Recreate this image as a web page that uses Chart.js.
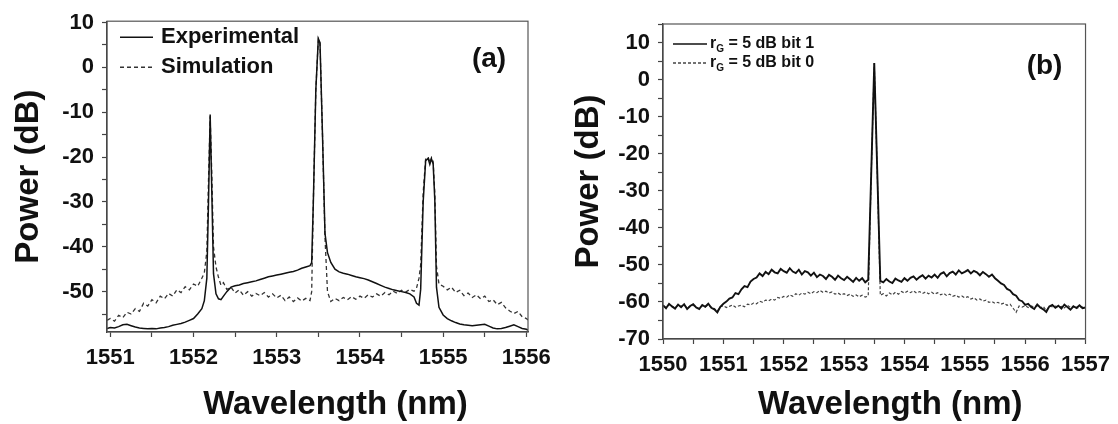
<!DOCTYPE html>
<html>
<head>
<meta charset="utf-8">
<script src="https://cdn.jsdelivr.net/npm/chart.js@4"></script>
<style>
  html, body { margin: 0; padding: 0; background: #fff; }
  #wrap { position: relative; width: 1118px; height: 424px; }
  canvas { position: absolute; top: 0; }
  #ca { left: 0; }
  #cb { left: 559px; }
</style>
</head>
<body>
<div id="wrap">
  <canvas id="ca" width="559" height="424"></canvas>
  <canvas id="cb" width="559" height="424"></canvas>
</div>
<script>
// panneau (a) : longueurs d'onde (nm) et puissances (dB)
const aWave = [
  1550.96, 1551.00, 1551.05, 1551.10, 1551.15, 1551.20, 1551.25, 1551.30, 1551.35, 1551.40,
  1551.45, 1551.50, 1551.55, 1551.60, 1551.65, 1551.70, 1551.75, 1551.80, 1551.85, 1551.90,
  1551.95, 1552.00, 1552.05, 1552.10, 1552.13, 1552.16, 1552.18, 1552.20, 1552.22, 1552.24,
  1552.27, 1552.30, 1552.33, 1552.36, 1552.40, 1552.45, 1552.50, 1552.55, 1552.60, 1552.65,
  1552.70, 1552.75, 1552.80, 1552.85, 1552.90, 1552.95, 1553.00, 1553.05, 1553.10, 1553.15,
  1553.20, 1553.25, 1553.30, 1553.35, 1553.40, 1553.42, 1553.44, 1553.47, 1553.50, 1553.52,
  1553.55, 1553.58, 1553.61, 1553.65, 1553.70, 1553.75, 1553.80, 1553.85, 1553.90, 1553.95,
  1554.00, 1554.05, 1554.10, 1554.15, 1554.20, 1554.25, 1554.30, 1554.35, 1554.40, 1554.45,
  1554.50, 1554.55, 1554.60, 1554.65, 1554.68, 1554.71, 1554.73, 1554.76, 1554.79, 1554.82,
  1554.84, 1554.86, 1554.88, 1554.90, 1554.92, 1554.95, 1555.00, 1555.05, 1555.10, 1555.15,
  1555.20, 1555.25, 1555.30, 1555.35, 1555.40, 1555.45, 1555.50, 1555.55, 1555.60, 1555.65,
  1555.70, 1555.75, 1555.80, 1555.85, 1555.90, 1555.95, 1556.00, 1556.02
];
const aExperimental = [
  -58.2, -58.0, -58.1, -57.8, -57.4, -57.3, -57.6, -57.9, -58.1, -58.2,
  -58.3, -58.2, -58.3, -58.1, -58.0, -57.8, -57.5, -57.3, -57.1, -56.8,
  -56.4, -56.0, -55.0, -53.8, -52.0, -47.0, -30.0, -10.5, -28.0, -46.0,
  -50.5, -51.6, -51.8, -51.0, -50.0, -49.0, -48.7, -48.5, -48.2, -48.0,
  -47.8, -47.6, -47.3, -47.0, -46.7, -46.5, -46.3, -46.1, -45.9, -45.7,
  -45.5, -45.2, -44.8, -44.5, -44.2, -43.5, -30.0, -5.0, 6.4, 5.5,
  -15.0, -37.0, -41.3, -43.5, -45.0, -45.6, -45.9, -46.1, -46.4, -46.7,
  -46.9, -47.1, -47.4, -47.8, -48.2, -48.6, -49.0, -49.3, -49.6, -49.8,
  -50.0, -50.2, -50.5, -51.2, -52.6, -53.0, -49.5, -30.0, -20.8, -20.3,
  -21.6, -20.4, -21.5, -29.6, -49.0, -53.5, -55.2, -56.0, -56.5, -56.9,
  -57.2, -57.4, -57.5, -57.6, -57.5, -57.4, -57.3, -57.7, -58.1, -58.3,
  -58.2, -58.0, -57.7, -57.4, -57.8, -58.2, -58.4, -58.6
];
const aSimulation = [
  -56.4, -56.0, -56.6, -55.3, -55.8, -54.6, -55.0, -53.8, -54.4, -52.6,
  -53.2, -51.8, -52.5, -51.0, -51.6, -50.4, -51.0, -49.6, -50.2, -48.9,
  -49.6, -48.3, -48.8, -47.0, -45.8, -41.0, -25.0, -10.9, -24.0, -40.0,
  -44.5, -46.8, -48.6, -48.0, -49.5, -49.0, -50.3, -49.6, -50.8, -50.0,
  -51.0, -50.4, -50.9, -50.2, -51.2, -50.5, -51.4, -50.8, -52.0, -51.2,
  -52.2, -51.4, -52.1, -51.5, -52.0, -50.0, -30.0, -5.0, 6.3, 5.3,
  -15.0, -38.0, -50.0, -52.2, -51.5, -52.0, -51.3, -51.8, -51.1, -51.7,
  -51.0, -51.5, -50.7, -51.2, -50.5, -51.0, -50.2, -50.7, -49.9, -50.4,
  -49.7, -50.1, -49.5, -49.9, -49.2, -47.0, -44.0, -28.0, -20.3, -20.0,
  -21.2, -20.1, -21.0, -28.0, -44.3, -48.3, -48.8, -49.6, -49.0, -50.2,
  -49.7, -50.9, -50.3, -51.3, -50.7, -51.6, -51.0, -52.2, -51.8, -52.9,
  -52.4, -53.6, -54.3, -54.9, -54.4, -55.6, -56.0, -56.3
];
const aLegend = ['Experimental', 'Simulation'];

// panneau (b)
const bWave = [
  1550.00, 1550.05, 1550.10, 1550.15, 1550.20, 1550.25, 1550.30, 1550.35, 1550.40, 1550.45,
  1550.50, 1550.55, 1550.60, 1550.65, 1550.70, 1550.75, 1550.80, 1550.85, 1550.90, 1550.95,
  1551.00, 1551.05, 1551.10, 1551.15, 1551.20, 1551.25, 1551.30, 1551.35, 1551.40, 1551.45,
  1551.50, 1551.55, 1551.60, 1551.65, 1551.70, 1551.75, 1551.80, 1551.85, 1551.90, 1551.95,
  1552.00, 1552.05, 1552.10, 1552.15, 1552.20, 1552.25, 1552.30, 1552.35, 1552.40, 1552.45,
  1552.50, 1552.55, 1552.60, 1552.65, 1552.70, 1552.75, 1552.80, 1552.85, 1552.90, 1552.95,
  1553.00, 1553.05, 1553.10, 1553.15, 1553.20, 1553.25, 1553.30, 1553.35, 1553.40, 1553.45,
  1553.50, 1553.55, 1553.60, 1553.65, 1553.70, 1553.75, 1553.80, 1553.85, 1553.90, 1553.95,
  1554.00, 1554.05, 1554.10, 1554.15, 1554.20, 1554.25, 1554.30, 1554.35, 1554.40, 1554.45,
  1554.50, 1554.55, 1554.60, 1554.65, 1554.70, 1554.75, 1554.80, 1554.85, 1554.90, 1554.95,
  1555.00, 1555.05, 1555.10, 1555.15, 1555.20, 1555.25, 1555.30, 1555.35, 1555.40, 1555.45,
  1555.50, 1555.55, 1555.60, 1555.65, 1555.70, 1555.75, 1555.80, 1555.85, 1555.90, 1555.95,
  1556.00, 1556.05, 1556.10, 1556.15, 1556.20, 1556.25, 1556.30, 1556.35, 1556.40, 1556.45,
  1556.50, 1556.55, 1556.60, 1556.65, 1556.70, 1556.75, 1556.80, 1556.85, 1556.90, 1556.95,
  1557.00
];
const bBit1 = [
  -60.9, -61.7, -60.5, -61.2, -61.8, -60.7, -61.4, -60.6, -61.9, -61.1,
  -60.6, -61.5, -61.9, -60.8, -61.3, -60.5, -61.6, -62.0, -62.8, -61.3,
  -60.5, -59.9, -59.1, -58.8, -57.6, -57.9, -56.6, -55.7, -56.0, -54.5,
  -53.8, -53.4, -52.3, -53.0, -51.9, -52.5, -51.3, -52.0, -52.3, -51.1,
  -51.7, -52.1, -50.9, -51.8, -52.2, -51.3, -52.6, -51.7, -52.0, -52.9,
  -52.1, -53.3, -52.6, -53.0, -53.8, -52.7, -53.2, -54.0, -52.9, -53.6,
  -54.1, -53.2, -53.9, -54.6, -53.5, -54.3, -53.6, -54.7, -54.0, -25.0,
  4.5, -25.0, -54.3, -54.7, -53.8, -54.5, -54.9, -53.7, -54.2, -54.6,
  -53.6, -54.3, -53.5, -53.1, -54.0, -53.3, -52.8, -53.7, -52.9, -53.4,
  -52.6, -53.5, -52.4, -52.0, -53.1, -52.2, -51.8, -52.6, -51.5, -52.3,
  -51.9, -51.4, -52.3, -51.6, -52.0, -52.8, -51.9, -52.5, -53.2, -52.6,
  -53.6, -54.3, -55.0, -55.4, -56.5, -56.9, -57.9, -58.3, -59.5, -59.8,
  -60.8, -60.5, -61.4, -61.9, -60.7, -61.5, -62.0, -62.7, -61.2, -60.8,
  -61.6, -61.0, -61.8, -60.7, -61.4, -62.1, -61.2, -61.6, -60.9, -61.7,
  -61.5
];
const bBit0 = [
  -61.1, -61.5, -60.8, -61.3, -61.6, -60.9, -61.2, -60.8, -61.7, -61.2,
  -60.9, -61.4, -61.8, -61.0, -61.3, -60.8, -61.4, -61.8, -62.5, -61.3,
  -61.0, -61.5, -61.2, -60.8, -61.4, -61.1, -60.9, -61.3, -60.6, -60.8,
  -60.3, -60.5, -59.8, -60.1, -59.5, -59.7, -59.2, -59.5, -58.8, -59.0,
  -58.5, -58.7, -58.1, -58.5, -57.8, -58.2, -57.6, -57.9, -57.4, -57.8,
  -57.2, -57.5, -56.9, -57.4, -57.1, -57.6, -57.3, -57.9, -57.6, -58.1,
  -57.8, -58.3, -57.9, -58.5, -58.1, -58.6, -58.2, -58.7, -58.4, -25.5,
  4.4, -25.5, -58.2, -57.8, -58.4, -57.6, -58.1, -57.4, -57.9, -57.2,
  -57.6, -57.1, -57.5, -57.0, -57.6, -57.2, -57.7, -57.3, -57.8, -57.4,
  -57.9, -57.5, -58.1, -57.7, -58.3, -57.9, -58.5, -58.2, -58.7, -58.4,
  -58.9, -58.6, -59.2, -58.9, -59.5, -59.2, -59.8, -59.5, -60.1, -59.9,
  -60.4, -60.1, -60.6, -60.3, -60.9, -60.6, -61.7, -62.8, -61.1, -61.4,
  -61.0, -61.5, -61.1, -61.4, -61.0, -61.6, -61.2, -62.3, -61.2, -61.3,
  -61.1, -61.5, -61.2, -61.6, -60.9, -61.5, -61.1, -61.8, -61.3, -61.4,
  -61.3
];
// légende (b) : r indice G
const bLegend = [
  [{ t: 'r' }, { t: 'G', sub: true }, { t: ' = 5 dB bit 1' }],
  [{ t: 'r' }, { t: 'G', sub: true }, { t: ' = 5 dB bit 0' }]
];
const xTitle = 'Wavelength (nm)';
const yTitle = 'Power (dB)';

const FONT = '"Liberation Sans", Arial, sans-serif';
const INK = '#111';

const pts = (xs, ys) => xs.map((x, i) => ({ x, y: ys[i] }));
const isMajor = (v, step) => Math.abs(v / step - Math.round(v / step)) < 1e-6;

// cadre + étiquette (a)/(b) + légende + titre X dessinés à la main
const panelPlugin = {
  id: 'panel',
  afterDraw(chart, args, o) {
    const { ctx, chartArea: a } = chart;
    ctx.save();
    ctx.strokeStyle = '#555';
    ctx.lineWidth = 1.2;
    ctx.strokeRect(a.left, a.top, a.right - a.left, a.bottom - a.top);

    ctx.fillStyle = INK;
    ctx.textAlign = 'center';
    ctx.textBaseline = 'middle';
    ctx.font = `bold ${o.tagSize}px ${FONT}`;
    ctx.fillText(o.tag, a.right + o.tagDx, a.top + o.tagDy);

    // titre de l'axe X, décalé comme sur l'original
    ctx.font = `bold 33px ${FONT}`;
    ctx.fillText(xTitle, (a.left + a.right) / 2 + o.xTitleDx, o.xTitleY);

    o.rows.forEach((r, i) => {
      const ds = chart.data.datasets[i];
      const y = a.top + r.dy;
      ctx.save();
      ctx.strokeStyle = ds.borderColor;
      ctx.lineWidth = o.legendLine;
      ctx.setLineDash(ds.borderDash || []);
      ctx.beginPath();
      ctx.moveTo(a.left + o.lineX0, y);
      ctx.lineTo(a.left + o.lineX1, y);
      ctx.stroke();
      ctx.restore();

      let x = a.left + o.textX;
      ctx.textAlign = 'left';
      r.parts.forEach(p => {
        const size = p.sub ? Math.round(o.textSize * 0.65) : o.textSize;
        ctx.font = `bold ${size}px ${FONT}`;
        ctx.fillText(p.t, x, y + (p.sub ? o.textSize * 0.3 : 0));
        x += ctx.measureText(p.t).width;
      });
    });
    ctx.restore();
  }
};

function makeScales(o) {
  const gridOpts = { drawOnChartArea: false, drawTicks: true, tickLength: 5, color: '#444', tickWidth: 1.2 };
  const tickFont = { family: FONT, size: 22, weight: 'bold' };
  return {
    x: {
      type: 'linear', min: o.xMin, max: o.xMax,
      border: { display: true, color: '#333', width: 1.3 },
      grid: gridOpts,
      ticks: {
        stepSize: 0.5, includeBounds: false, autoSkip: false, maxRotation: 0, maxTicksLimit: 50,
        padding: 8, color: INK, font: tickFont,
        callback: v => isMajor(v, 1) ? String(Math.round(v)) : ''
      },
      afterFit: s => { s.height = o.xH; }
    },
    y: {
      min: o.yMin, max: o.yMax,
      border: { display: true, color: '#333', width: 1.3 },
      grid: gridOpts,
      ticks: {
        stepSize: 5, includeBounds: false, autoSkip: false, maxTicksLimit: 50,
        padding: 8, color: INK, font: tickFont,
        callback: v => isMajor(v, 10) ? String(Math.round(v)) : ''
      },
      title: {
        display: true, text: yTitle, color: INK,
        font: { family: FONT, size: 33, weight: 'bold' },
        padding: { top: o.yTitlePad, bottom: 0 }
      },
      afterFit: s => { s.width = o.yW; }
    }
  };
}

function lineDs(label, data, color, width, dash) {
  return {
    label, data, borderColor: color, borderWidth: width, borderDash: dash,
    pointRadius: 0, tension: 0, fill: false
  };
}

new Chart(document.getElementById('ca'), {
  type: 'line',
  data: {
    datasets: [
      lineDs(aLegend[0], pts(aWave, aExperimental), '#111', 1.5, []),
      lineDs(aLegend[1], pts(aWave, aSimulation), '#333', 1.3, [4, 3])
    ]
  },
  options: {
    responsive: false, animation: false,
    layout: { padding: { left: 0, top: 19, right: 31, bottom: 0 } },
    scales: makeScales({ xMin: 1550.96, xMax: 1556.02, yMin: -59, yMax: 10.3, xH: 92, yW: 107, yTitlePad: 9 }),
    plugins: {
      legend: { display: false }, tooltip: { enabled: false },
      panel: {
        tag: '(a)', tagSize: 28, tagDx: -39, tagDy: 38, xTitleDx: 18, xTitleY: 405,
        lineX0: 13, lineX1: 46, textX: 54, textSize: 22, legendLine: 1.5,
        rows: [
          { dy: 16, parts: [{ t: aLegend[0] }] },
          { dy: 46, parts: [{ t: aLegend[1] }] }
        ]
      }
    }
  },
  plugins: [panelPlugin]
});

new Chart(document.getElementById('cb'), {
  type: 'line',
  data: {
    datasets: [
      lineDs('bit 1', pts(bWave, bBit1), '#111', 1.9, []),
      lineDs('bit 0', pts(bWave, bBit0), '#444', 1.2, [3, 2])
    ]
  },
  options: {
    responsive: false, animation: false,
    layout: { padding: { left: 0, top: 24, right: 30, bottom: 0 } },
    scales: makeScales({ xMin: 1550, xMax: 1557, yMin: -70, yMax: 15, xH: 85, yW: 104, yTitlePad: 10 }),
    plugins: {
      legend: { display: false }, tooltip: { enabled: false },
      panel: {
        tag: '(b)', tagSize: 28, tagDx: -41, tagDy: 42, xTitleDx: 16, xTitleY: 405,
        lineX0: 10, lineX1: 44, textX: 47, textSize: 16, legendLine: 1.4,
        rows: [
          { dy: 20, parts: bLegend[0] },
          { dy: 39, parts: bLegend[1] }
        ]
      }
    }
  },
  plugins: [panelPlugin]
});
</script>
</body>
</html>
